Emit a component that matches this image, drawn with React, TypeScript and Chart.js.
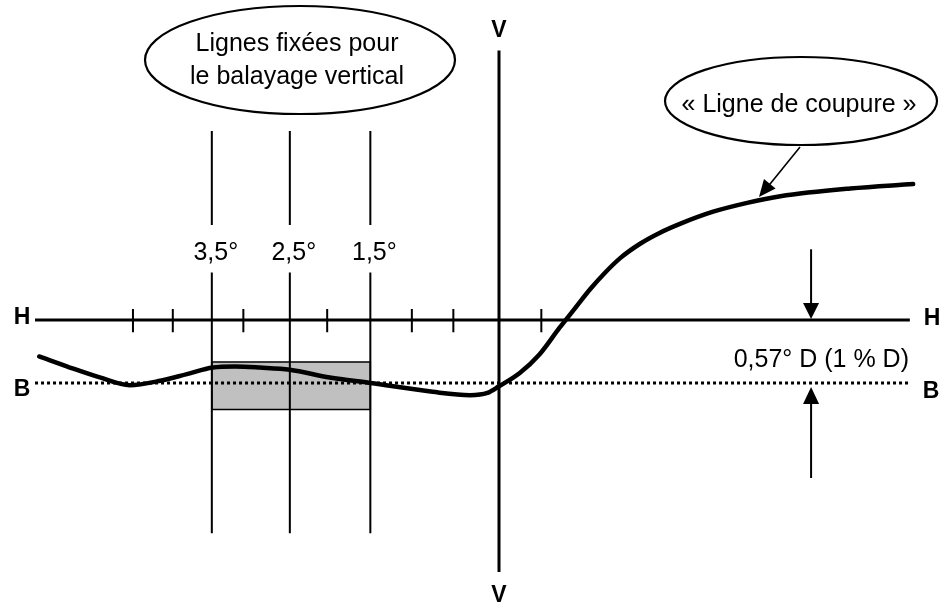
import React, { useEffect, useRef } from "react";
import { Chart, registerables } from "chart.js";

Chart.register(...registerables);

// ---- data (degrees; x: negative = left of V, y: negative = below H) ----
const cutoffX = [-5.54, -5.17, -4.81, -4.45, -4.08, -3.76, -3.45, -3.18, -2.88, -2.52, -2.04, -1.55, -0.8, -0.35, -0.14, 0, 0.25, 0.49, 0.73, 0.92, 1.1, 1.28, 1.46, 1.7, 1.94, 2.18, 2.58, 2.99, 3.39, 4.23, 4.99];
const cutoffY = [-0.33, -0.43, -0.52, -0.59, -0.55, -0.49, -0.43, -0.42, -0.43, -0.45, -0.52, -0.57, -0.65, -0.68, -0.66, -0.6, -0.48, -0.31, -0.07, 0.11, 0.28, 0.43, 0.56, 0.69, 0.79, 0.87, 0.98, 1.06, 1.12, 1.19, 1.23];
const hTicksX = [-4.41, -3.93, -3.08, -2.07, -1.05, -0.55, 0.51];
const scanLinesX = [-3.46, -2.52, -1.55];
const scanLabels = ["3,5°", "2,5°", "1,5°"];
const hLevel = 0;
const bLevel = -0.57;
const lineExtentX = [-5.59, 4.95];
const vExtentY = [2.44, -2.28];
const scanUpperY = [1.71, 0.86];
const scanLowerY = [0.43, -1.93];
const tickY = [0.1, -0.11];
const boxY = [-0.38, -0.81];
const gapArrowX = 3.76;
const downArrowY = [0.64, 0];
const upArrowY = [-1.43, -0.57];
const bLabel = "0,57° D (1 % D)";
const bubble1 = ["Lignes fixées pour", "le balayage vertical"];
const bubble2 = "« Ligne de coupure »";

const FONT = '"Liberation Sans", Arial, sans-serif';

function seg(x1: number, y1: number, x2: number, y2: number, width: number, extra: any = {}) {
  return {
    data: [{ x: x1, y: y1 }, { x: x2, y: y2 }],
    showLine: true,
    borderColor: "#000",
    borderWidth: width,
    pointRadius: 0,
    tension: 0,
    ...extra,
  };
}

function arrowHead(ctx: CanvasRenderingContext2D, fx: number, fy: number, tx: number, ty: number, len: number, half: number) {
  const a = Math.atan2(ty - fy, tx - fx);
  const bx = tx - len * Math.cos(a);
  const by = ty - len * Math.sin(a);
  ctx.beginPath();
  ctx.moveTo(tx, ty);
  ctx.lineTo(bx + half * Math.sin(a), by - half * Math.cos(a));
  ctx.lineTo(bx - half * Math.sin(a), by + half * Math.cos(a));
  ctx.closePath();
  ctx.fill();
}

const diagramPlugin = {
  id: "diagram",
  beforeDatasetsDraw(chart: any) {
    const { ctx, scales } = chart;
    const X = (v: number) => scales.x.getPixelForValue(v);
    const Y = (v: number) => scales.y.getPixelForValue(v);
    const x1 = X(scanLinesX[0]);
    const x2 = X(scanLinesX[2]);
    const y1 = Y(boxY[0]);
    const y2 = Y(boxY[1]);
    ctx.save();
    ctx.fillStyle = "#c0c0c0";
    ctx.fillRect(x1, y1, x2 - x1, y2 - y1);
    ctx.strokeStyle = "#000";
    ctx.lineWidth = 1.5;
    ctx.strokeRect(x1, y1, x2 - x1, y2 - y1);
    ctx.restore();
  },
  afterDatasetsDraw(chart: any) {
    const { ctx, scales } = chart;
    const X = (v: number) => scales.x.getPixelForValue(v);
    const Y = (v: number) => scales.y.getPixelForValue(v);
    ctx.save();
    ctx.fillStyle = "#000";
    ctx.strokeStyle = "#000";

    // scan-line labels
    ctx.font = `25px ${FONT}`;
    ctx.textAlign = "center";
    ctx.textBaseline = "alphabetic";
    scanLinesX.forEach((v, i) => ctx.fillText(scanLabels[i], X(v) + 4, 260));

    // H / B / V letters
    ctx.font = `bold 23px ${FONT}`;
    ctx.fillText("H", 22, Y(hLevel) + 4);
    ctx.fillText("H", 932, Y(hLevel) + 5);
    ctx.fillText("B", 22, Y(bLevel) + 13);
    ctx.fillText("B", 931, Y(bLevel) + 15);
    ctx.fillText("V", X(0), 37);
    ctx.fillText("V", X(0), 602);

    // 0,57° label
    ctx.font = `25px ${FONT}`;
    ctx.textAlign = "right";
    ctx.fillText(bLabel, 909, 367);

    // vertical gap arrows
    ctx.lineWidth = 2;
    const ax = X(gapArrowX);
    ctx.beginPath();
    ctx.moveTo(ax, Y(downArrowY[0]));
    ctx.lineTo(ax, Y(downArrowY[1]) - 12);
    ctx.stroke();
    arrowHead(ctx, ax, Y(downArrowY[0]), ax, Y(downArrowY[1]) - 1, 16, 8);
    ctx.beginPath();
    ctx.moveTo(ax, Y(upArrowY[0]));
    ctx.lineTo(ax, Y(upArrowY[1]) + 14);
    ctx.stroke();
    arrowHead(ctx, ax, Y(upArrowY[0]), ax, Y(upArrowY[1]) + 4, 17, 8);

    // ellipse 1
    ctx.lineWidth = 2.2;
    ctx.fillStyle = "#fff";
    ctx.beginPath();
    ctx.ellipse(300, 60, 155, 54, 0, 0, Math.PI * 2);
    ctx.fill();
    ctx.stroke();
    ctx.fillStyle = "#000";
    ctx.textAlign = "center";
    ctx.font = `25px ${FONT}`;
    ctx.fillText(bubble1[0], 297, 51);
    ctx.fillText(bubble1[1], 297, 84);

    // ellipse 2
    ctx.fillStyle = "#fff";
    ctx.beginPath();
    ctx.ellipse(801, 101, 136, 44, 0, 0, Math.PI * 2);
    ctx.fill();
    ctx.stroke();
    ctx.fillStyle = "#000";
    ctx.fillText(bubble2, 799, 112);

    // pointer arrow
    ctx.lineWidth = 1.6;
    ctx.beginPath();
    ctx.moveTo(800, 147);
    ctx.lineTo(766, 189);
    ctx.stroke();
    arrowHead(ctx, 800, 147, 759, 197, 17, 7.5);

    ctx.restore();
  },
};

export default function App() {
  const ref = useRef<HTMLCanvasElement | null>(null);

  useEffect(() => {
    if (!ref.current) return;
    const datasets: any[] = [];
    // cut-off curve (on top)
    datasets.push({
      data: cutoffX.map((x, i) => ({ x, y: cutoffY[i] })),
      showLine: true,
      borderColor: "#000",
      borderWidth: 4.5,
      pointRadius: 0,
      cubicInterpolationMode: "monotone",
      borderCapStyle: "round",
      borderJoinStyle: "round",
    });
    // V line
    datasets.push(seg(0, vExtentY[0], 0, vExtentY[1], 3));
    // H line
    datasets.push(seg(lineExtentX[0], hLevel, lineExtentX[1], hLevel, 3));
    // B dotted line
    datasets.push(seg(lineExtentX[0], bLevel, lineExtentX[1], bLevel, 3, { borderDash: [3, 3] }));
    // ticks
    hTicksX.forEach((x) => datasets.push(seg(x, tickY[0], x, tickY[1], 2)));
    // scan lines
    scanLinesX.forEach((x) => {
      datasets.push(seg(x, scanUpperY[0], x, scanUpperY[1], 2));
      datasets.push(seg(x, scanLowerY[0], x, scanLowerY[1], 2));
    });

    const chart = new Chart(ref.current, {
      type: "scatter",
      data: { datasets },
      options: {
        animation: false,
        responsive: false,
        maintainAspectRatio: false,
        devicePixelRatio: 1,
        layout: { padding: 0 },
        events: [],
        scales: {
          x: { type: "linear", min: -6.012, max: 5.3253, display: false },
          y: { type: "linear", min: -2.5611, max: 2.8959, display: false },
        },
        plugins: {
          legend: { display: false },
          tooltip: { enabled: false },
        },
      },
      plugins: [diagramPlugin],
    } as any);
    return () => chart.destroy();
  }, []);

  return (
    <div style={{ position: "fixed", left: 0, top: 0, width: 941, height: 603, background: "#fff" }}>
      <canvas ref={ref} width={941} height={603} style={{ display: "block" }} />
    </div>
  );
}
